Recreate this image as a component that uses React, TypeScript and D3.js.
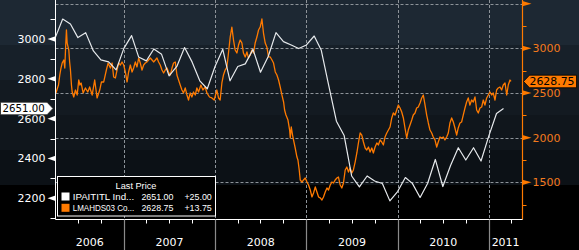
import React, { useEffect } from 'react';
import * as d3 from 'd3';

const W = 579;
const H = 250;

// IPAITITL Index — monthly values, first month Apr 2006
const whiteStart = '2006-04-01';
const whiteValues = [
  3006, 3100, 3075, 3007, 3032, 2940, 2895, 2885, 2845,
  2953, 3017, 2910, 2890, 2950, 2923, 2815, 2862, 2957, 2885, 2790, 2750,
  2862, 2948, 2790, 2862, 2875, 2948, 2833, 2912, 3032, 2987, 2970, 2952,
  2970, 3015, 2945, 2762, 2587, 2515, 2312, 2257, 2312, 2287, 2274, 2187,
  2234, 2304, 2275, 2204, 2274, 2395, 2259, 2365, 2454, 2392, 2454, 2387,
  2512, 2626, 2651,
];

// LMAHDS03 Comdty — [decimal year, price]
const orangePrices: [number, number][] = [
  [2006.255, 2500], [2006.272, 2556], [2006.283, 2589], [2006.297, 2701], [2006.31, 2779], [2006.323, 2835], [2006.341, 2869], [2006.352, 2779], [2006.362, 3037], [2006.37, 3205], [2006.378, 3059], [2006.396, 2981], [2006.405, 2847], [2006.414, 2757], [2006.425, 2589], [2006.433, 2511], [2006.45, 2455], [2006.469, 2533], [2006.488, 2477], [2006.505, 2645], [2006.518, 2589], [2006.531, 2612], [2006.553, 2500], [2006.578, 2556], [2006.604, 2511], [2006.625, 2567], [2006.652, 2477], [2006.68, 2645], [2006.706, 2444], [2006.735, 2533], [2006.754, 2623], [2006.779, 2623], [2006.808, 2757], [2006.827, 2835], [2006.852, 2779], [2006.871, 2835], [2006.888, 2679], [2006.907, 2668], [2006.925, 2757], [2006.943, 2835], [2006.962, 2813], [2006.98, 2847], [2006.998, 2813],
  [2007.016, 2735], [2007.035, 2623], [2007.052, 2735], [2007.071, 2813], [2007.09, 2735], [2007.107, 2779], [2007.126, 2847], [2007.144, 2791], [2007.162, 2891], [2007.18, 2835], [2007.199, 2757], [2007.217, 2813], [2007.235, 2835], [2007.254, 2847], [2007.271, 2869], [2007.29, 2891], [2007.309, 2869], [2007.326, 2847], [2007.345, 2869], [2007.363, 2891], [2007.381, 2847], [2007.399, 2813], [2007.418, 2757], [2007.436, 2724], [2007.454, 2757], [2007.473, 2779], [2007.49, 2735], [2007.509, 2701], [2007.528, 2779], [2007.545, 2835], [2007.564, 2847], [2007.582, 2701], [2007.6, 2645], [2007.618, 2589], [2007.637, 2533], [2007.654, 2500], [2007.673, 2556], [2007.692, 2477], [2007.709, 2421], [2007.728, 2500], [2007.746, 2455], [2007.764, 2511], [2007.783, 2477], [2007.801, 2556], [2007.819, 2511], [2007.845, 2589], [2007.867, 2533], [2007.892, 2567], [2007.911, 2500], [2007.939, 2455], [2007.965, 2444], [2007.991, 2421],
  [2008.02, 2533], [2008.038, 2444], [2008.056, 2421], [2008.075, 2612], [2008.092, 2701], [2008.111, 2757], [2008.13, 2791], [2008.147, 2947], [2008.166, 3126], [2008.184, 3238], [2008.202, 3093], [2008.22, 2981], [2008.239, 2947], [2008.257, 3037], [2008.275, 3093], [2008.294, 3059], [2008.311, 2947], [2008.33, 2903], [2008.349, 2959], [2008.366, 2891], [2008.385, 2925], [2008.403, 2981], [2008.421, 2947], [2008.439, 3059], [2008.458, 3126], [2008.476, 3205], [2008.494, 3238], [2008.513, 3328], [2008.53, 3171], [2008.549, 3059], [2008.567, 3015], [2008.585, 2903], [2008.604, 2903], [2008.623, 2869], [2008.64, 2835], [2008.659, 2735], [2008.677, 2701], [2008.695, 2645], [2008.713, 2567], [2008.732, 2477], [2008.75, 2399], [2008.761, 2309], [2008.776, 2253], [2008.798, 2197], [2008.816, 2085], [2008.823, 1996], [2008.834, 2119], [2008.848, 2029], [2008.859, 1973], [2008.877, 1884], [2008.896, 1783], [2008.907, 1750], [2008.921, 1638], [2008.932, 1526], [2008.951, 1503], [2008.968, 1526], [2008.987, 1548],
  [2009.006, 1503], [2009.023, 1470], [2009.042, 1414], [2009.06, 1336], [2009.078, 1380], [2009.097, 1448], [2009.115, 1392], [2009.133, 1336], [2009.151, 1325], [2009.17, 1302], [2009.187, 1336], [2009.206, 1392], [2009.225, 1436], [2009.242, 1414], [2009.261, 1470], [2009.279, 1503], [2009.297, 1492], [2009.315, 1526], [2009.334, 1548], [2009.351, 1559], [2009.37, 1470], [2009.388, 1436], [2009.406, 1492], [2009.425, 1638], [2009.443, 1671], [2009.461, 1615], [2009.479, 1660], [2009.498, 1604], [2009.515, 1638], [2009.534, 1727], [2009.553, 1828], [2009.57, 1940], [2009.589, 2052], [2009.607, 2029], [2009.625, 1951], [2009.644, 1884], [2009.662, 1862], [2009.68, 1895], [2009.698, 1839], [2009.717, 1884], [2009.734, 1828], [2009.753, 1895], [2009.772, 1940], [2009.789, 1918], [2009.808, 1974], [2009.826, 1951], [2009.844, 1918], [2009.862, 2007], [2009.881, 2052], [2009.899, 2085], [2009.917, 2119], [2009.936, 2220], [2009.953, 2276], [2009.972, 2253], [2009.99, 2309],
  [2010.008, 2365], [2010.027, 2332], [2010.045, 2287], [2010.063, 2220], [2010.081, 2108], [2010.1, 1996], [2010.117, 2085], [2010.136, 2141], [2010.155, 2197], [2010.172, 2253], [2010.191, 2276], [2010.209, 2332], [2010.227, 2343], [2010.246, 2388], [2010.264, 2444], [2010.282, 2477], [2010.301, 2365], [2010.319, 2253], [2010.337, 2164], [2010.355, 2085], [2010.374, 2052], [2010.391, 2007], [2010.41, 1974], [2010.429, 1895], [2010.446, 1951], [2010.465, 2007], [2010.483, 1996], [2010.501, 2007], [2010.519, 1974], [2010.538, 2007], [2010.556, 2052], [2010.574, 2164], [2010.593, 2220], [2010.611, 2175], [2010.629, 2108], [2010.648, 2029], [2010.665, 2108], [2010.684, 2164], [2010.702, 2175], [2010.72, 2253], [2010.739, 2332], [2010.757, 2399], [2010.775, 2444], [2010.793, 2365], [2010.812, 2421], [2010.83, 2399], [2010.849, 2455], [2010.867, 2309], [2010.885, 2276], [2010.903, 2332], [2010.922, 2343], [2010.94, 2421], [2010.958, 2365], [2010.977, 2444], [2010.995, 2477],
  [2011.013, 2511], [2011.032, 2477], [2011.049, 2500], [2011.068, 2421], [2011.086, 2533], [2011.104, 2556], [2011.123, 2567], [2011.141, 2533], [2011.159, 2589], [2011.178, 2612], [2011.197, 2477], [2011.214, 2589], [2011.233, 2645], [2011.244, 2628.75],
];

const leftMajor = [2200, 2400, 2600, 2800, 3000];
const leftMinor = [2100, 2300, 2500, 2700, 2900, 3100];
const rightMajor = [1500, 2000, 2500, 3000, 3500];
const rightMinor = [1250, 1750, 2250, 2750, 3250];
const years = [2006, 2007, 2008, 2009, 2010, 2011];

const legendTitle = 'Last Price';
const legendNames = ['IPAITITL Ind...', 'LMAHDS03 Co...'];
const legendLast = ['2651.00', '2628.75'];
const legendChange = ['+25.00', '+13.75'];
const lastWhite = 2651.0;
const lastOrange = 2628.75;

const WHITE = '#e6e9ec';
const ORANGE = '#ff7a00';
const ORANGE_TXT = '#f47a1e';
const TICK_FONT = 'DejaVu Sans, sans-serif';
const LEG_FONT = 'Liberation Sans, Arial, sans-serif';

const decToDate = (t: number) => {
  const y = Math.floor(t);
  const a = Date.UTC(y, 0, 1);
  const b = Date.UTC(y + 1, 0, 1);
  return new Date(a + (t - y) * (b - a));
};

const X0 = 55.5, X1 = 522.5, Y0 = 0, Y1 = 219.5;

export default function App() {
  useEffect(() => {
    document.body.style.margin = '0';
    document.body.style.background = '#000';
  }, []);

  const x = d3.scaleUtc().domain([decToDate(2006.25), decToDate(2011.37)]).range([X0, X1]);
  const yL = d3.scaleLinear().domain([2092.4, 3195.9]).range([219.7, 0]);
  const yR = d3.scaleLinear().domain([1081.3, 3540.7]).range([219.7, 0]);

  const whiteDates = d3.utcMonth.range(new Date(whiteStart + 'T00:00:00Z'), new Date('2099-01-01T00:00:00Z')).slice(0, whiteValues.length);
  const whiteLine = d3.line<number>().x((_, i) => x(whiteDates[i])).y((v) => yL(v));
  const orangeLine = d3.line<[number, number]>().x((d) => x(decToDate(d[0]))).y((d) => yR(d[1]));

  const yearStarts = d3.utcYear.range(decToDate(2006.25), decToDate(2011.37));
  const quarters = d3.utcMonth.every(3)!.range(decToDate(2006.26), decToDate(2011.37)).filter((d) => d.getUTCMonth() !== 0);

  const bands = [
    { y0: 0, y1: 45, c: '#1d2833' },
    { y0: 45, y1: 80, c: '#172029' },
    { y0: 80, y1: 115, c: '#131a21' },
    { y0: 115, y1: 150, c: '#10161c' },
    { y0: 150, y1: 185, c: '#0c1116' },
    { y0: 185, y1: 250, c: '#000000' },
  ];

  const dash = '3,2';
  const gridColor = '#8d9399';

  const yw = yL(lastWhite);
  const yo = yR(lastOrange);

  return (
    <svg width={W} height={H} style={{ display: 'block' }}>
      <defs>
        <clipPath id="plot">
          <rect x={X0} y={Y0} width={X1 - X0} height={Y1 - Y0} />
        </clipPath>
      </defs>
      {bands.map((b, i) => (
        <rect key={i} x={0} y={b.y0} width={W} height={b.y1 - b.y0} fill={b.c} />
      ))}

      {/* grid */}
      {rightMajor.map((v) => (
        <line key={'gh' + v} x1={X0} x2={X1} y1={Math.round(yR(v)) + 0.5} y2={Math.round(yR(v)) + 0.5} stroke={gridColor} strokeDasharray={dash} strokeWidth={1} />
      ))}
      {yearStarts.map((d, i) => (
        <line key={'gv' + i} x1={Math.round(x(d)) + 0.5} x2={Math.round(x(d)) + 0.5} y1={0} y2={Y1} stroke={gridColor} strokeDasharray={dash} strokeWidth={1} />
      ))}

      {/* series */}
      <g clipPath="url(#plot)">
        <path d={orangeLine(orangePrices) || ''} fill="none" stroke={ORANGE} strokeWidth={1.3} strokeLinejoin="round" />
        <path d={whiteLine(whiteValues) || ''} fill="none" stroke={WHITE} strokeWidth={1.2} strokeLinejoin="round" />
      </g>

      {/* left axis */}
      <line x1={X0} x2={X0} y1={0} y2={Y1} stroke="#ffffff" strokeWidth={1} />
      {leftMinor.map((v) => (
        <line key={'lm' + v} x1={X0 - 5} x2={X0} y1={Math.round(yL(v)) + 0.5} y2={Math.round(yL(v)) + 0.5} stroke="#ffffff" />
      ))}
      {leftMajor.map((v) => (
        <g key={'lM' + v}>
          <polygon points={`${X0},${yL(v) - 2.8} ${X0},${yL(v) + 2.8} ${X0 - 8},${yL(v)}`} fill="#ffffff" />
          <text x={45.5} y={yL(v) + 4} textAnchor="end" fontFamily={TICK_FONT} fontSize={11} fill="#ffffff">
            {v}
          </text>
        </g>
      ))}

      {/* right axis */}
      <line x1={X1} x2={X1} y1={0} y2={Y1} stroke={ORANGE} strokeWidth={1.2} />
      {rightMinor.map((v) => (
        <line key={'rm' + v} x1={X1} x2={X1 + 4} y1={Math.round(yR(v)) + 0.5} y2={Math.round(yR(v)) + 0.5} stroke={ORANGE} />
      ))}
      {rightMajor.map((v) => (
        <g key={'rM' + v}>
          <polygon points={`${X1},${yR(v) - 2.6} ${X1},${yR(v) + 2.6} ${X1 + 9},${yR(v)}`} fill={ORANGE} />
          {yR(v) > 10 && (
            <text x={532.5} y={yR(v) + 4} fontFamily={TICK_FONT} fontSize={11} fill={ORANGE_TXT}>
              {v}
            </text>
          )}
        </g>
      ))}

      {/* x axis */}
      <line x1={X0} x2={X1} y1={Y1} y2={Y1} stroke="#ffffff" strokeWidth={1} />
      {quarters.map((d, i) => (
        <line key={'q' + i} x1={Math.round(x(d)) + 0.5} x2={Math.round(x(d)) + 0.5} y1={Y1} y2={Y1 + 4} stroke="#ffffff" />
      ))}
      {yearStarts.map((d, i) => (
        <line key={'ys' + i} x1={Math.round(x(d)) + 0.5} x2={Math.round(x(d)) + 0.5} y1={Y1} y2={H} stroke="#8a8a8a" strokeWidth={1.2} />
      ))}
      {years.map((yr) => {
        const a = Math.max(x(new Date(Date.UTC(yr, 0, 1))), X0);
        const b = Math.min(x(new Date(Date.UTC(yr + 1, 0, 1))), X1);
        return (
          <text key={'yr' + yr} x={(a + b) / 2} y={245.5} textAnchor="middle" fontFamily={TICK_FONT} fontSize={11} fill="#ffffff">
            {yr}
          </text>
        );
      })}

      {/* last price tags */}
      <polygon points={`0.5,${yw - 6.3} 47,${yw - 6.3} 53,${yw} 47,${yw + 6.3} 0.5,${yw + 6.3}`} fill="#ffffff" stroke="#222" strokeWidth={0.8} />
      <text x={2.5} y={yw + 4} fontFamily={TICK_FONT} fontSize={10.2} fill="#000">
        {lastWhite.toFixed(2)}
      </text>
      <polygon points={`523.5,${yo} 529.5,${yo - 6.3} 576.5,${yo - 6.3} 576.5,${yo + 6.3} 529.5,${yo + 6.3}`} fill={ORANGE} stroke="#000" strokeWidth={0.8} />
      <text x={529.5} y={yo + 4} fontFamily={TICK_FONT} fontSize={10.9} fill="#000">
        {lastOrange.toFixed(2)}
      </text>

      {/* legend */}
      <rect x={57.5} y={176.5} width={158} height={39.5} fill="#000" stroke="#ffffff" strokeWidth={1} />
      <text x={136} y={188.5} textAnchor="middle" fontFamily={LEG_FONT} fontSize={9.2} fill="#ffffff">
        {legendTitle}
      </text>
      {legendNames.map((n, i) => (
        <g key={'lg' + i}>
          <rect x={61.5} y={192.5 + i * 11.3} width={8} height={8} fill={i === 0 ? '#ffffff' : ORANGE} />
          <text x={72.7} y={199.9 + i * 11} fontFamily={LEG_FONT} fontSize={8.6} fill="#ffffff" textLength={61.5} lengthAdjust="spacingAndGlyphs">
            {n}
          </text>
          <text x={173.5} y={199.9 + i * 11} textAnchor="end" fontFamily={LEG_FONT} fontSize={8.9} fill="#ffffff">
            {legendLast[i]}
          </text>
          <text x={211.8} y={199.9 + i * 11} textAnchor="end" fontFamily={LEG_FONT} fontSize={8.9} fill="#ffffff">
            {legendChange[i]}
          </text>
        </g>
      ))}
    </svg>
  );
}
